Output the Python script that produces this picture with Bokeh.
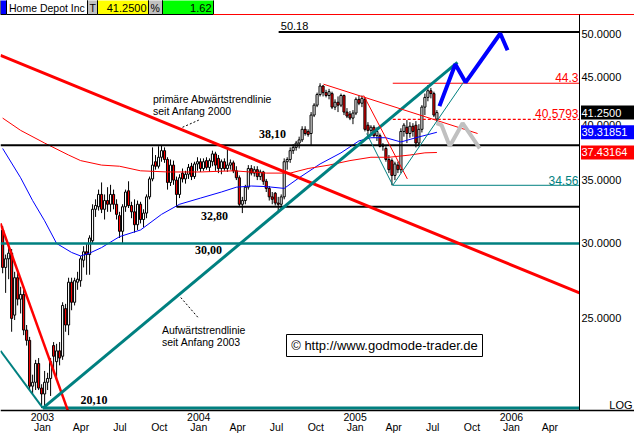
import numpy as np
import pandas as pd
from bokeh.plotting import figure
from bokeh.models import Range1d, LinearAxis, LogAxis, FixedTicker
from bokeh.core.properties import value
from bokeh.embed import file_html
from bokeh.resources import INLINE

# ---------------- data (weekly candles, Home Depot Inc) ----------------
start_date = "2002-09-30"
opens = [31.0, 28.3, 28.9, 29.3, 25.2, 27.6, 26.2, 26.5, 24.3, 23.7,
         21.2, 21.4, 22.4, 21.1, 20.8, 21.4, 21.6, 23.4, 22.5, 23.1,
         22.8, 25.6, 24.6, 27.3, 26.0, 27.3, 27.4, 28.8, 29.4, 29.2,
         30.2, 32.6, 32.8, 33.8, 32.6, 33.3, 33.0, 33.8, 33.0, 32.1,
         30.9, 32.8, 34.1, 32.9, 32.4, 31.4, 33.0, 31.8, 32.3, 33.6,
         35.1, 36.6, 36.2, 37.0, 37.6, 36.8, 34.8, 36.3, 35.0, 33.8,
         35.6, 35.1, 35.5, 36.2, 35.3, 36.4, 36.6, 36.0, 36.7, 36.1,
         36.6, 37.3, 36.9, 36.0, 36.6, 36.0, 36.3, 36.5, 35.8, 35.2,
         33.0, 33.3, 34.4, 36.0, 35.6, 35.9, 35.3, 35.7, 34.9, 34.3,
         33.6, 33.9, 33.1, 33.0, 33.6, 36.6, 36.8, 37.6, 37.9, 38.3,
         38.6, 39.6, 39.4, 39.2, 41.0, 42.0, 43.1, 44.0, 43.3, 43.0,
         43.2, 41.8, 42.3, 42.0, 43.0, 41.3, 41.1, 40.7, 41.2, 42.6,
         42.2, 42.6, 40.0, 39.5, 39.8, 39.0, 39.0, 38.0, 37.8, 36.8,
         36.7, 35.4, 36.3, 35.9, 39.4, 39.8, 39.2, 39.9, 40.0, 38.3,
         39.6, 41.8, 42.8, 43.5, 43.2, 40.6]
highs = [31.3, 29.2, 29.8, 29.6, 28.0, 28.0, 27.0, 26.8, 24.6, 23.9,
         21.8, 22.6, 22.7, 21.3, 22.0, 21.9, 22.7, 23.6, 23.5, 23.6,
         26.0, 25.9, 27.6, 27.6, 27.6, 28.0, 29.1, 29.8, 30.0, 30.6,
         33.0, 33.4, 34.2, 34.8, 33.8, 34.4, 34.6, 34.2, 33.4, 32.4,
         33.0, 34.2, 34.9, 33.2, 33.4, 33.3, 33.2, 32.6, 33.8, 35.3,
         37.9, 37.2, 38.0, 38.1, 37.9, 37.0, 36.8, 36.7, 35.3, 35.5,
         36.0, 35.8, 36.4, 36.5, 36.6, 37.0, 36.9, 36.9, 37.0, 36.9,
         37.6, 37.5, 37.2, 36.8, 36.9, 37.9, 36.8, 36.7, 36.2, 35.4,
         33.6, 34.6, 36.3, 36.3, 36.2, 36.2, 35.9, 35.8, 35.1, 34.5,
         34.0, 34.0, 33.6, 33.8, 36.9, 37.0, 37.9, 38.2, 38.5, 38.9,
         39.9, 39.9, 39.6, 41.3, 42.2, 43.3, 44.3, 44.1, 43.6, 43.7,
         43.4, 42.6, 42.9, 43.2, 43.1, 41.7, 41.4, 41.5, 42.8, 43.0,
         43.0, 42.8, 40.3, 40.0, 40.0, 39.8, 39.2, 38.3, 38.0, 37.2,
         36.9, 36.6, 36.6, 39.7, 40.2, 40.5, 40.3, 40.2, 40.4, 40.1,
         42.0, 43.2, 44.1, 43.8, 43.4, 41.5]
lows = [27.9, 26.6, 27.5, 24.2, 24.9, 25.8, 25.3, 24.0, 23.4, 21.0,
        20.8, 21.0, 21.0, 20.1, 20.1, 21.0, 20.7, 22.0, 21.5, 22.3,
        22.6, 24.2, 24.0, 25.5, 25.8, 26.8, 27.0, 28.3, 27.8, 27.8,
        30.0, 32.0, 32.5, 32.3, 31.8, 32.4, 32.4, 32.6, 31.8, 30.4,
        30.0, 32.4, 32.7, 31.9, 30.8, 31.0, 31.5, 31.2, 31.9, 33.4,
        34.9, 35.9, 36.0, 36.6, 36.5, 34.2, 34.5, 34.6, 32.8, 33.5,
        34.8, 34.7, 35.1, 35.0, 35.1, 35.8, 35.7, 35.8, 35.9, 35.7,
        36.2, 35.8, 35.6, 35.5, 35.8, 35.7, 35.9, 35.6, 35.0, 32.8,
        32.3, 33.0, 34.2, 35.4, 35.3, 35.0, 35.0, 34.6, 34.0, 33.3,
        33.0, 32.9, 32.4, 32.6, 33.4, 35.9, 36.5, 37.3, 37.6, 37.8,
        38.4, 39.0, 38.9, 38.1, 40.8, 41.8, 42.9, 42.9, 42.8, 42.6,
        41.6, 41.5, 41.3, 41.8, 41.0, 40.7, 40.5, 40.1, 41.0, 42.0,
        41.8, 39.4, 38.9, 39.2, 38.8, 38.5, 37.9, 37.6, 36.6, 35.6,
        34.56, 35.0, 35.6, 35.6, 38.9, 38.3, 38.8, 38.9, 37.9, 38.0,
        39.3, 41.0, 42.4, 42.7, 40.8, 40.3]
closes = [28.3, 28.9, 29.3, 25.0, 27.6, 26.2, 26.5, 24.3, 23.7, 21.2,
          21.4, 22.4, 21.1, 20.8, 21.4, 21.6, 22.5, 22.8, 23.1, 22.7,
          25.8, 24.6, 27.3, 26.0, 27.4, 27.5, 28.9, 29.4, 29.2, 30.4,
          32.6, 32.9, 33.8, 32.6, 33.3, 33.0, 33.8, 33.0, 32.2, 30.9,
          32.8, 34.0, 32.9, 32.4, 31.4, 33.0, 31.8, 32.3, 33.6, 35.1,
          36.3, 36.2, 37.0, 37.6, 36.8, 34.8, 36.3, 35.0, 33.8, 35.2,
          35.1, 35.5, 36.1, 35.3, 36.4, 36.6, 36.0, 36.6, 36.1, 36.7,
          37.3, 36.3, 36.0, 36.6, 36.0, 36.3, 36.5, 35.8, 35.2, 33.0,
          33.3, 34.4, 36.0, 35.6, 35.9, 35.3, 35.7, 34.9, 34.3, 33.6,
          33.4, 33.1, 33.0, 33.6, 36.6, 36.8, 37.6, 37.9, 38.3, 38.6,
          39.6, 39.2, 39.1, 41.0, 42.0, 43.1, 44.0, 43.3, 43.0, 43.4,
          41.8, 42.3, 42.0, 43.0, 41.3, 40.9, 40.7, 41.2, 42.6, 42.2,
          42.7, 39.6, 39.5, 39.8, 39.0, 39.4, 38.0, 38.1, 36.8, 35.9,
          35.4, 36.4, 35.9, 39.4, 40.0, 39.2, 39.9, 39.4, 38.3, 39.6,
          41.8, 42.8, 43.5, 43.2, 41.0, 41.25]

# moving averages (week index, price)
blue_ma_week = [0, 6, 10, 14, 18, 23, 26, 29, 33, 39, 46, 53, 59, 66, 73, 78,
                83, 88, 94, 99, 106, 113, 119, 123, 128, 133, 138, 145]
blue_ma = [37.8, 35.2, 33.3, 31.7, 30.0, 29.35, 29.1, 29.3, 29.7, 30.5, 31.0,
           32.2, 33.0, 33.5, 34.0, 34.4, 34.5, 34.45, 34.3, 35.2, 36.4, 37.4,
           38.5, 38.8, 38.8, 38.4, 38.8, 39.31851]
red_ma_week = [0, 6, 14, 22, 26, 33, 39, 46, 55, 66, 77, 88, 96, 102, 109,
               116, 123, 129, 136, 141, 145]
red_ma = [40.7, 39.5, 38.3, 37.2, 36.7, 36.3, 36.2, 35.8, 35.7, 35.7, 35.8,
          35.6, 35.6, 36.0, 36.3, 36.7, 37.0, 37.0, 37.2, 37.4, 37.43164]

# trend lines (dates, prices)
primary_down_dates = ["2002-09-25", "2006-06-09"]
primary_down_prices = [47.4, 26.6]
steep_down_dates = ["2002-09-25", "2003-03-01"]
steep_down_prices = [31.5, 20.0]
up_trend_dates = ["2003-01-02", "2005-08-28"]
up_trend_prices = [20.1, 46.6]
left_v_dates = ["2002-09-25", "2003-01-02"]
left_v_prices = [23.1, 20.1]
top_down_dates = ["2004-10-19", "2005-10-14"]
top_down_prices = [44.2, 39.2]
fast_down_dates = ["2005-01-21", "2005-05-03"]
fast_down_prices = [43.0, 35.1]
swing_dates = ["2005-01-28", "2005-03-30", "2005-09-11"]
swing_prices = [39.2, 34.56, 44.4]
blue_proj_dates = ["2005-07-17", "2005-08-23", "2005-09-16", "2005-12-06", "2005-12-23"]
blue_proj_prices = [41.9, 46.4, 44.4, 50.0, 48.0]
gray_proj_dates = ["2005-07-10", "2005-07-22", "2005-08-10", "2005-09-09", "2005-10-19"]
gray_proj_prices = [40.2, 40.0, 38.0, 40.2, 37.8]

year_labels = ["2003", "2004", "2005", "2006"]
month_tick_start, month_tick_end = "2003-01-01", "2006-04-01"
price_ticks = [25, 30, 35, 40, 45, 50]
price_labels = ["25.0000", "30.0000", "35.0000", "40.0000", "45.0000", "50.0000"]

last_price, last_blue, last_red = 41.25, 39.31851, 37.43164
pct_change = 1.62


def dec(d):
    t = pd.Timestamp(d)
    n = 366 if t.is_leap_year else 365
    return t.year + (t.dayofyear - 1) / n


def decs(ds):
    return [dec(d) for d in ds]


SANS = "Liberation Sans"
SERIF = "Liberation Serif"
TEAL = "#008080"

# chart area (px 0..579 of the original) and full width incl. price scale (px 634)
X0, X1 = dec("2002-09-25"), dec("2006-06-09")
XE = X0 + 634.0 / 579.0 * (X1 - X0)
Y0 = 19.98


def px_x(px):
    return X0 + px / 579.0 * (X1 - X0)


def px_y(py):
    return 50.0 * np.exp(-(py - 33.0) / 411.0)


p = figure(width=634, height=433, x_range=Range1d(X0, XE),
           y_range=Range1d(px_y(433), px_y(0)),
           y_axis_type="log", y_axis_location=None, x_axis_type=None,
           output_backend="svg", toolbar_location=None,
           min_border_left=0, min_border_top=0, min_border_bottom=0, min_border_right=0)
p.outline_line_color = None
p.background_fill_color = "white"
p.border_fill_color = "white"
p.grid.visible = False

# price scale: a real log axis drawn at the right edge of the chart area
ya = LogAxis(ticker=FixedTicker(ticks=price_ticks),
             major_label_overrides={t: s for t, s in zip(price_ticks, price_labels)},
             fixed_location=X1, bounds=(Y0, px_y(14)))
ya.major_tick_out = 0
ya.major_tick_in = 0
ya.minor_tick_out = 0
ya.minor_tick_in = 0
ya.major_label_standoff = 2
ya.axis_line_color = "black"
ya.axis_line_width = 1
ya.major_label_text_font = SANS
ya.major_label_text_font_size = "11px"
ya.major_label_text_color = "black"
p.add_layout(ya, "right")

# time axis: year on the first line, month on the second
mdates = pd.date_range(month_tick_start, month_tick_end, freq="QS")
mt = decs(mdates)
ml = []
for d in mdates:
    top = year_labels[d.year - 2003] if d.month == 1 else " "
    ml.append(top + "\n" + d.strftime("%b"))
xa = LinearAxis(ticker=FixedTicker(ticks=mt),
                major_label_overrides={t: s for t, s in zip(mt, ml)},
                fixed_location=Y0)
xa.major_tick_out = 0
xa.major_tick_in = 0
xa.minor_tick_out = 0
xa.minor_tick_in = 0
xa.major_label_standoff = 0
xa.major_label_text_font = SANS
xa.major_label_text_font_size = "10.5px"
xa.major_label_text_line_height = 0.85
xa.major_label_text_color = "black"
xa.axis_line_color = "black"
xa.axis_line_width = 1.5
p.add_layout(xa, "below")

# ---------------- candles ----------------
dates = pd.date_range(start_date, periods=len(closes), freq="7D")
xs = np.array(decs(dates))
o, h, l, c = map(np.array, (opens, highs, lows, closes))
up = c >= o
bw = 0.7 / 52.18
p.segment(xs, h, xs, l, line_color="black", line_width=1)
p.vbar(x=xs[up], width=bw, top=c[up], bottom=o[up], fill_color="white",
       line_color="black", line_width=1)
p.vbar(x=xs[~up], width=bw, top=o[~up], bottom=c[~up], fill_color="#ff0000",
       line_color="black", line_width=1)

# moving averages
p.line(xs[blue_ma_week], blue_ma, line_color="#0000ff", line_width=1)
p.line(xs[red_ma_week], red_ma, line_color="#ff0000", line_width=1)

# horizontal levels
p.line([X0, X1], [38.10, 38.10], line_color="black", line_width=2)
p.line([dec("2003-11-10"), X1], [32.80, 32.80], line_color="black", line_width=2)
p.line([dec("2004-07-06"), X1], [50.18, 50.18], line_color="black", line_width=2)
p.line([X0, X1], [30.00, 30.00], line_color=TEAL, line_width=2.5)
p.line([dec("2003-01-02"), X1], [20.10, 20.10], line_color=TEAL, line_width=3)
p.line([dec("2005-03-30"), X1], [44.3, 44.3], line_color="#ff0000", line_width=1)
p.line([dec("2005-03-30"), X1], [40.5793, 40.5793], line_color="#ff0000", line_width=1.2,
       line_dash="3 2")
p.line([dec("2005-03-30"), X1], [34.56, 34.56], line_color=TEAL, line_width=1)

# trend lines
p.line(decs(primary_down_dates), primary_down_prices, line_color="#ff0000", line_width=3)
p.line(decs(steep_down_dates), steep_down_prices, line_color="#ff0000", line_width=2.5)
p.line(decs(up_trend_dates), up_trend_prices, line_color=TEAL, line_width=3)
p.line(decs(left_v_dates), left_v_prices, line_color=TEAL, line_width=2)
p.line(decs(top_down_dates), top_down_prices, line_color="#ff0000", line_width=1)
p.line(decs(fast_down_dates), fast_down_prices, line_color="#ff0000", line_width=1)
p.line(decs(swing_dates), swing_prices, line_color=TEAL, line_width=1)
p.line(decs(gray_proj_dates), gray_proj_prices, line_color="#c0c0c0", line_width=4)
p.line(decs(blue_proj_dates), blue_proj_prices, line_color="#0000ff", line_width=4)

# leaders
p.line(decs(["2003-11-24", "2004-01-01"]), [39.8, 40.5], line_color="black",
       line_width=1, line_dash="2 2")
p.line(decs(["2003-11-20", "2004-01-01"]), [26.3, 25.0], line_color="black",
       line_width=1, line_dash="2 2")

# texts
p.text(x=[dec("2003-09-16")] * 2 + [dec("2003-10-07")] * 2,
       y=[42.6, 41.4, 24.3, 23.6],
       text=["primäre Abwärtstrendlinie", "seit Anfang 2000",
             "Aufwärtstrendlinie", "seit Anfang 2003"],
       text_font=value(SANS), text_font_size="10.5px", text_color="black",
       text_align="left", text_baseline="middle")
p.text(x=decs(["2004-05-21", "2004-01-06", "2003-12-23", "2003-03-31"]),
       y=[39.2, 32.1, 29.5, 20.5],
       text=["38,10", "32,80", "30,00", "20,10"],
       text_font=value(SERIF), text_font_style="bold", text_font_size="12px",
       text_color="black", text_align="left", text_baseline="middle")
p.text(x=[dec("2004-07-11")], y=[50.9], text=["50.18"], text_font=value(SANS),
       text_font_size="11px", text_color="black", text_align="left",
       text_baseline="middle")
p.text(x=[X1, X1], y=[44.9, 41.15], text=["44.3", "40.5793"], text_font=value(SANS),
       text_font_size="12px", text_color="#ff0000", text_align="right",
       text_baseline="middle", x_offset=-1)
p.text(x=[X1], y=[35.0], text=["34.56"], text_font=value(SANS), text_font_size="12px",
       text_color=TEAL, text_align="right", text_baseline="middle", x_offset=-1)

# copyright box
p.quad(left=[px_x(286)], right=[px_x(482)], bottom=[px_y(356)], top=[px_y(334)],
       fill_color="white", line_color="black", line_width=1)
p.text(x=[px_x(384)], y=[px_y(345)], text=["© http://www.godmode-trader.de"],
       text_font=value(SANS), text_font_size="13px", text_color="black",
       text_align="center", text_baseline="middle")

# header bar
hdr = [(0, 6, "#0000ff"), (6, 87, "white"), (87, 97, "#c0c0c0"),
       (97, 148, "#ffff00"), (148, 162, "#c0c0c0"), (162, 213, "#00ff00")]
p.quad(left=[px_x(a) for a, b, col in hdr], right=[px_x(b) for a, b, col in hdr],
       bottom=[px_y(14)] * len(hdr), top=[px_y(-10)] * len(hdr),
       fill_color=[col for a, b, col in hdr], line_color="black", line_width=1)
p.line([px_x(213), XE], [px_y(14), px_y(14)], line_color="#ff0000", line_width=1)
p.text(x=[px_x(8.5), px_x(89), px_x(150)], y=[px_y(7)] * 3,
       text=["Home Depot Inc", "T", "%"], text_font=value(SANS),
       text_font_size="10.5px", text_color="black", text_align="left",
       text_baseline="middle")
p.text(x=[px_x(146), px_x(211)], y=[px_y(7)] * 2,
       text=[f"{last_price:.4f}", f"{pct_change:.2f}"], text_font=value(SANS),
       text_font_size="11px", text_color="black", text_align="right",
       text_baseline="middle")

# value tags on the price scale
tag_vals = [last_price, last_blue, last_red]
tag_text = [f"{last_price:.4f}", f"{last_blue:.5f}", f"{last_red:.5f}"]
tag_cols = ["black", "#0000ff", "#ff0000"]
half = np.exp(7.0 / 411.0)
p.quad(left=[px_x(580.5)] * 3, right=[XE] * 3,
       bottom=[v / half for v in tag_vals], top=[v * half for v in tag_vals],
       fill_color=tag_cols, line_color=None, level="overlay")
p.text(x=[X1] * 3, y=tag_vals, text=tag_text, x_offset=2, text_font=value(SANS),
       text_font_size="11px", text_color="white", text_align="left",
       text_baseline="middle", level="overlay")
p.text(x=[XE], y=[px_y(404)], text=["LOG"], x_offset=-2, text_font=value(SANS),
       text_font_size="11px", text_color="black", text_align="right",
       text_baseline="middle")

open("out.html", "w").write(file_html(p, INLINE))
